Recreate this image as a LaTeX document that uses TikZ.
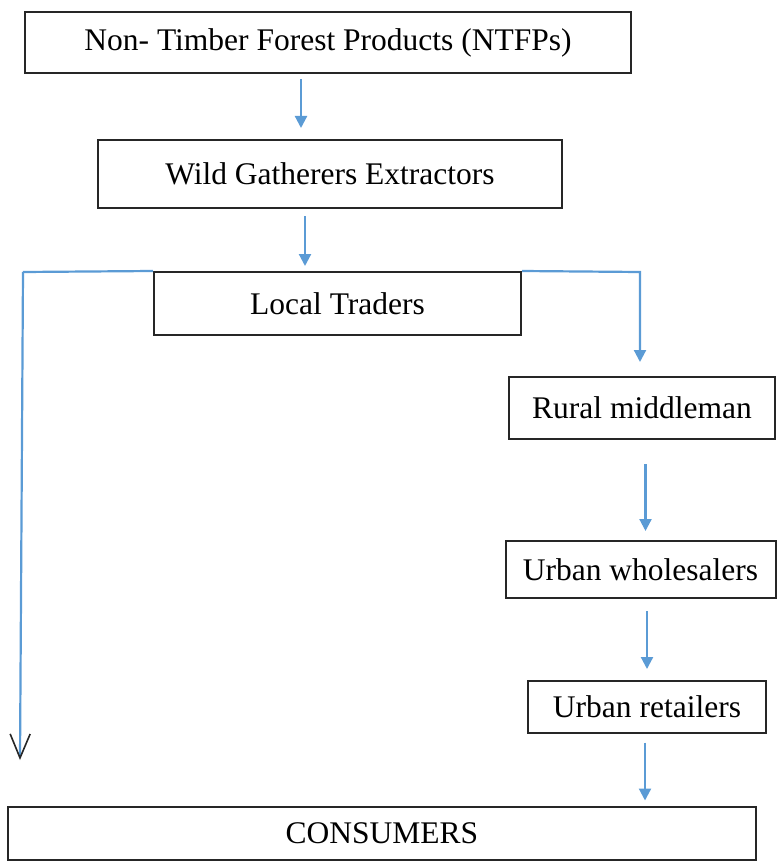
\documentclass[tikz,border=0pt]{standalone}
\usepackage{fontspec}
\setmainfont{Liberation Serif}
\usetikzlibrary{arrows.meta}
\definecolor{lineblue}{RGB}{91,155,213}
\begin{document}
\begin{tikzpicture}[x=1pt,y=-1pt,
  box/.style={draw=black!85,line width=2pt,inner sep=0pt,font=\fontsize{31.5}{36}\selectfont,text=black},
  bl/.style={draw=lineblue,line width=2.2pt},
  arr/.style={bl,-{Triangle[length=12pt,width=12pt]}}]
\useasboundingbox (0,0) rectangle (777,861);
\node[box,minimum width=606pt,minimum height=61pt] (ntfp) at (328,42.5) {Non- Timber Forest Products (NTFPs)\hspace{11pt}};
\node[box,minimum width=464pt,minimum height=68pt] (wild) at (330,174) {Wild Gatherers Extractors\hspace{6pt}};
\node[box,minimum width=367pt,minimum height=63pt] (local) at (337.5,303.5) {Local Traders\hspace{18pt}};
\node[box,minimum width=266pt,minimum height=62pt] (rural) at (642,408) {Rural middleman};
\node[box,minimum width=270pt,minimum height=57pt] (whole) at (640.5,569.5) {Urban wholesalers};
\node[box,minimum width=238pt,minimum height=52pt] (retail) at (647,706.5) {Urban retailers};
\node[box,minimum width=748pt,minimum height=53pt] (cons) at (382,833.5) {CONSUMERS};
\coordinate (bleft) at (23,272);
\coordinate (bright) at (640,272);
\coordinate (lend) at (20,760);
\draw[arr] ([xshift=-27pt,yshift=-5pt]ntfp.south) -- ++(0,49);
\draw[arr] ([xshift=-25pt,yshift=-7pt]wild.south) -- ++(0,50);
\draw[bl] (local.north west) -- (bleft);
\draw[bl,-{Straight Barb[length=24pt,width=20pt,color=black!85,line width=1.6pt]}] (bleft) -- (lend);
\draw[arr] (local.north east) -- (bright) -- ([yshift=14pt]bright |- rural.north);
\draw[arr] ([xshift=3.5pt,yshift=-24pt]rural.south) -- ++(0,67);
\draw[arr] ([xshift=6.5pt,yshift=-12pt]whole.south) -- ++(0,58);
\draw[arr] ([xshift=-2pt,yshift=-9pt]retail.south) -- ++(0,58);
\end{tikzpicture}
\end{document}
